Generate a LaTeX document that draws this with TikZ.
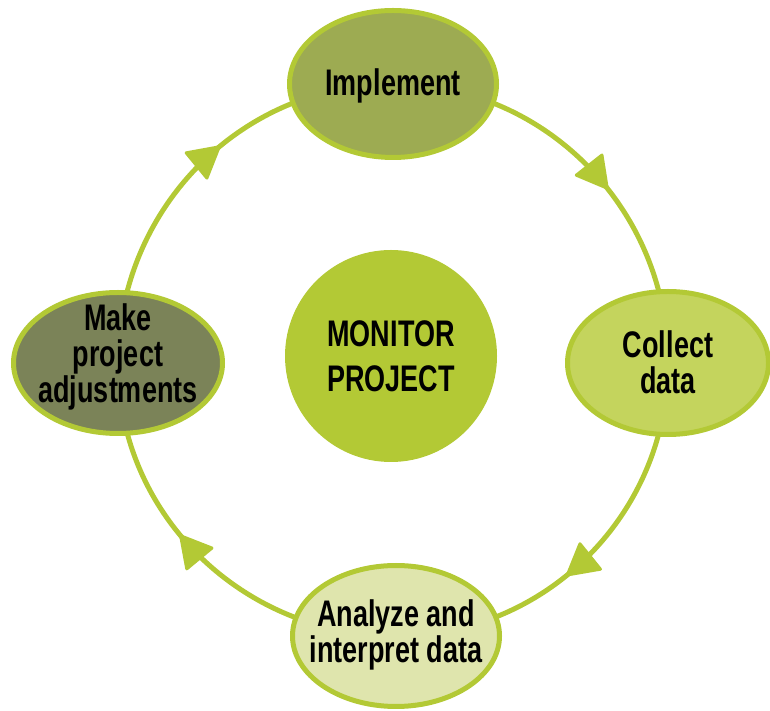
\documentclass[tikz,border=0pt]{standalone}
\usepackage{fontspec}
\newfontfamily\condfont[FakeStretch=0.73]{Liberation Sans}
\usetikzlibrary{shapes.geometric,arrows.meta,decorations.markings,backgrounds}
\definecolor{ring}{HTML}{B3C935}
\definecolor{implc}{HTML}{9DAB52}
\definecolor{collc}{HTML}{C4D45D}
\definecolor{analc}{HTML}{DFE5AD}
\definecolor{makec}{HTML}{7B8358}
\begin{document}
\begin{tikzpicture}[x=1pt,y=1pt]
\useasboundingbox (0,0) rectangle (770,711);
\tikzset{
  stage/.style={ellipse, draw=ring, line width=5pt, inner sep=0pt},
  stagetext/.style={align=center, inner sep=0pt,
    font=\condfont\bfseries\fontsize{37}{36}\selectfont},
  hub/.style={circle, fill=ring, inner sep=0pt, align=center,
    font=\condfont\bfseries\fontsize{37}{45}\selectfont},
  flow/.style={draw=ring, line width=5pt, postaction={decorate},
    decoration={markings, mark=at position 0.57 with {\arrow[line width=3pt]{Triangle[length=34pt,width=37pt,round]}}}}
}
\node[stage, fill=implc, minimum width=207pt, minimum height=147pt,
  label={[stagetext, yshift=-2pt]center:Implement}] (impl) at (393,627) {};
\node[stage, fill=collc, minimum width=201pt, minimum height=143pt,
  label={[stagetext, yshift=1pt]center:{Collect\\data}}] (coll) at (668,348) {};
\node[stage, fill=analc, minimum width=207pt, minimum height=141pt,
  label={[stagetext, yshift=1pt]center:{Analyze and\\interpret data}}] (anal) at (396,75) {};
\node[stage, fill=makec, minimum width=209pt, minimum height=141pt,
  label={[stagetext, yshift=6pt]center:{Make\\project\\adjustments}}] (make) at (118,348) {};
\node[hub, minimum size=212pt] (mon) at (391,355) {MONITOR\\PROJECT};
\begin{scope}[on background layer]
\draw[flow] (impl.center) to[out=0,in=90] (coll.center);
\draw[flow] (coll.center) to[out=-90,in=0] (anal.center);
\draw[flow] (anal.center) to[out=180,in=-90] (make.center);
\draw[flow] (make.center) to[out=90,in=180] (impl.center);
\end{scope}
\end{tikzpicture}
\end{document}
